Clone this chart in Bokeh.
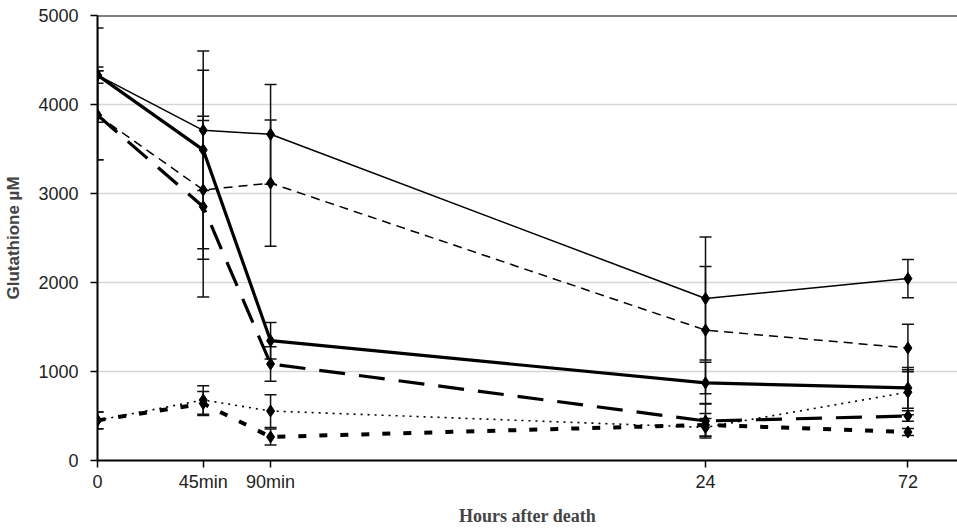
import numpy as np
from bokeh.plotting import figure
from bokeh.models import (ColumnDataSource, Whisker, TeeHead, FixedTicker, Span,
                          Range1d, CustomJSTickFormatter)
from bokeh.embed import file_html
from bokeh.resources import INLINE

# ---- data ----
time_labels = ["0", "45min", "90min", "24", "72"]
time_hours = [0, 0.75, 1.5, 24, 72]

thin_solid = [4330, 3710, 3665, 1820, 2044]
thin_solid_err = [530, 675, 560, 690, 215]

thick_solid = [4330, 3490, 1346, 872, 816]
thick_solid_err = [90, 1110, 205, 232, 230]

thin_dash = [3880, 3040, 3117, 1465, 1264]
thin_dash_err = [500, 780, 710, 715, 268]

long_dash = [3880, 2852, 1085, 444, 500]
long_dash_err = [500, 1016, 194, 190, 60]

dotted = [451, 680, 556, 372, 768]
dotted_err = [93, 160, 184, 100, 253]

short_dash = [451, 640, 265, 400, 320]
short_dash_err = [93, 135, 90, 128, 40]

y_ticks = [0, 1000, 2000, 3000, 4000, 5000]

# x positions: ln(1 + hours)
xpos = list(np.log1p(time_hours))

series = [
    (thin_solid, thin_solid_err, 1.5, "solid"),
    (thin_dash, thin_dash_err, 1.5, "9 6"),
    (thick_solid, thick_solid_err, 3.2, "solid"),
    (long_dash, long_dash_err, 3.2, "26 14"),
    (dotted, dotted_err, 1.6, "2 5"),
    (short_dash, short_dash_err, 4, "8 13"),
]

p = figure(width=957, height=528, output_backend="svg", toolbar_location=None,
           x_range=Range1d(0, 4.553), y_range=Range1d(0, 5000),
           min_border_left=97, min_border_right=0, min_border_top=15,
           min_border_bottom=66)
p.outline_line_color = None
p.background_fill_color = "white"

# error bars
for vals, errs, lw, dash in series:
    src = ColumnDataSource(dict(x=xpos,
                                upper=[v + e for v, e in zip(vals, errs)],
                                lower=[v - e for v, e in zip(vals, errs)]))
    w = Whisker(base="x", upper="upper", lower="lower", source=src,
                line_color="#111111", line_width=1.5,
                upper_head=TeeHead(size=12, line_width=1.5, line_color="#111111"),
                lower_head=TeeHead(size=12, line_width=1.5, line_color="#111111"))
    p.add_layout(w)

# lines and markers
for vals, errs, lw, dash in series:
    p.line(xpos, vals, line_color="black", line_width=lw, line_dash=dash)
for vals, errs, lw, dash in series:
    p.scatter(xpos, vals, marker="diamond", size=12, color="black")

# top border
p.add_layout(Span(location=5000, dimension="width", line_color="black", line_width=2))

# axes
p.xgrid.grid_line_color = None
p.ygrid.grid_line_color = "#d6d6d6"
p.ygrid.grid_line_width = 1.5
p.yaxis.ticker = FixedTicker(ticks=y_ticks)
p.xaxis.ticker = FixedTicker(ticks=xpos)
p.xaxis.formatter = CustomJSTickFormatter(args=dict(pos=xpos, labels=time_labels), code="""
    let best = 0;
    for (let i = 0; i < pos.length; i++) {
        if (Math.abs(pos[i] - tick) < Math.abs(pos[best] - tick)) best = i;
    }
    return labels[best];
""")

for ax in (p.xaxis[0], p.yaxis[0]):
    ax.axis_line_color = "black"
    ax.axis_line_width = 2
    ax.major_tick_line_color = "black"
    ax.major_tick_line_width = 1.5
    ax.major_tick_out = 7
    ax.major_tick_in = 0
    ax.minor_tick_line_color = None
    ax.major_label_text_font = "Liberation Sans"
    ax.major_label_text_font_size = "18px"
    ax.major_label_text_color = "#222222"

p.yaxis.major_label_standoff = 12
p.xaxis.major_label_standoff = 4

p.yaxis.axis_label = "Glutathione µM"
p.yaxis.axis_label_text_font = "Liberation Sans"
p.yaxis.axis_label_text_font_style = "bold"
p.yaxis.axis_label_text_font_size = "17px"
p.yaxis.axis_label_standoff = 12

p.xaxis.axis_label = "Hours after death"
p.xaxis.axis_label_text_font = "Liberation Serif"
p.xaxis.axis_label_text_font_style = "bold"
p.xaxis.axis_label_text_font_size = "18px"
p.xaxis.axis_label_standoff = 11

open("out.html", "w").write(file_html(p, INLINE))
